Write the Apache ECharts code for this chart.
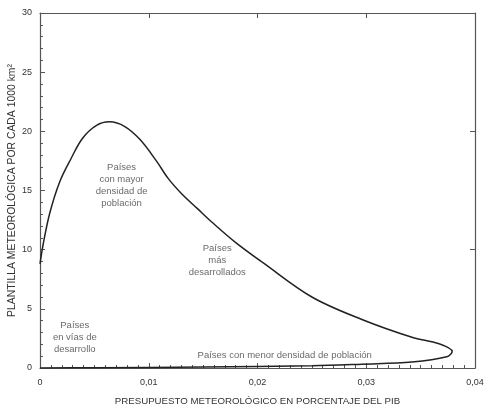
<!DOCTYPE html>
<html>
<head>
<meta charset="utf-8">
<script src="https://cdn.jsdelivr.net/npm/echarts@6/dist/echarts.min.js"></script>
<style>
  html, body { margin: 0; padding: 0; background: #fff; }
  #chart { width: 485px; height: 410px; }
</style>
</head>
<body>
<div id="chart"></div>
<script>
// curve (closed loop, in drawing order)
var curveX = [0, 0.0003, 0.0009, 0.0018, 0.0028, 0.0039, 0.0052, 0.0064, 0.0078, 0.0092, 0.0107, 0.0118, 0.0130, 0.0145, 0.0159, 0.018, 0.0205, 0.025, 0.0296, 0.0342, 0.0367, 0.0379, 0.0374, 0.0342, 0.0296, 0.025, 0.015, 0.005, 0];
var curveY = [8.8, 10.5, 13.1, 15.7, 17.6, 19.4, 20.5, 20.8, 20.4, 19.3, 17.5, 16.0, 14.75, 13.45, 12.25, 10.6, 8.9, 6.0, 4.1, 2.6, 2.05, 1.4, 0.95, 0.5, 0.32, 0.18, 0.08, 0.02, 0];

// annotations placed in data coordinates
var noteText = [
  "Países\ncon mayor\ndensidad de\npoblación",
  "Países\nmás\ndesarrollados",
  "Países\nen vías de\ndesarrollo",
  "Países con menor densidad de población"
];
var noteX = [0.0075, 0.0163, 0.0032, 0.0225];
var noteY = [15.4, 9.1, 2.6, 1.1];

var xTicks = [0, 0.01, 0.02, 0.03, 0.04];
var yTicks = [0, 5, 10, 15, 20, 25, 30];

var chart = echarts.init(document.getElementById("chart"));

var ink = "#333";
var frame = "#555";
var font = "Liberation Sans";

var lineData = curveX.map(function (x, i) { return [x, curveY[i]]; });
var noteData = noteText.map(function (t, i) { return { value: [noteX[i], noteY[i]], name: t }; });

var option = {
  backgroundColor: "#fff",
  animation: false,
  grid: { left: 40, right: 10, top: 13, bottom: 42, outerBoundsMode: "none", containLabel: false },
  xAxis: [
    {
      type: "value",
      min: xTicks[0],
      max: xTicks[xTicks.length - 1],
      interval: 0.01,
      name: "PRESUPUESTO METEOROLÓGICO EN PORCENTAJE DEL PIB",
      nameLocation: "middle",
      nameGap: 28,
      nameTextStyle: { color: ink, fontSize: 9.7, fontFamily: font },
      axisLine: { onZero: false, lineStyle: { color: frame, width: 1.2 } },
      axisTick: { inside: true, length: 5, lineStyle: { color: frame } },
      minorTick: { show: true, splitNumber: 10, length: 3, lineStyle: { color: frame } },
      splitLine: { show: false },
      axisLabel: {
        color: ink, fontSize: 9, fontFamily: font, margin: 10,
        formatter: function (v) { return v === 0 ? "0" : v.toFixed(2).replace(".", ","); }
      }
    },
    {
      type: "value",
      position: "top",
      min: xTicks[0],
      max: xTicks[xTicks.length - 1],
      interval: 0.01,
      axisLine: { show: true, onZero: false, lineStyle: { color: frame, width: 1.2 } },
      axisTick: { show: true, inside: true, length: 5, lineStyle: { color: frame } },
      axisLabel: { show: false },
      splitLine: { show: false }
    }
  ],
  yAxis: [
    {
      type: "value",
      min: yTicks[0],
      max: yTicks[yTicks.length - 1],
      interval: 5,
      name: "PLANTILLA METEOROLÓGICA POR CADA 1000 km²",
      nameLocation: "middle",
      nameGap: 23,
      nameMoveOverlap: false,
      nameTextStyle: { color: ink, fontSize: 10.4, fontFamily: font },
      axisLine: { show: true, onZero: false, lineStyle: { color: frame, width: 1.2 } },
      axisTick: { show: true, inside: true, length: 5, lineStyle: { color: frame } },
      minorTick: { show: true, splitNumber: 5, length: 3, lineStyle: { color: frame } },
      splitLine: { show: false },
      axisLabel: { color: ink, fontSize: 9, fontFamily: font, margin: 8 }
    },
    {
      type: "value",
      position: "right",
      min: 0,
      max: 30,
      interval: 10,
      axisLine: { show: true, onZero: false, lineStyle: { color: frame, width: 1.2 } },
      axisTick: { show: true, inside: true, length: 5, lineStyle: { color: frame } },
      axisLabel: { show: false },
      splitLine: { show: false }
    }
  ],
  series: [
    {
      type: "line",
      data: lineData,
      smooth: 0.35,
      showSymbol: false,
      lineStyle: { color: "#222", width: 1.5 }
    },
    {
      type: "scatter",
      data: noteData,
      symbolSize: 0,
      silent: true,
      label: {
        show: true,
        position: "inside",
        formatter: function (p) { return p.name; },
        color: "#444",
        fontSize: 9.5,
        lineHeight: 12,
        fontFamily: font,
        align: "center"
      }
    }
  ]
};

chart.setOption(option);
window.addEventListener("resize", function () { chart.resize(); });
</script>
</body>
</html>
